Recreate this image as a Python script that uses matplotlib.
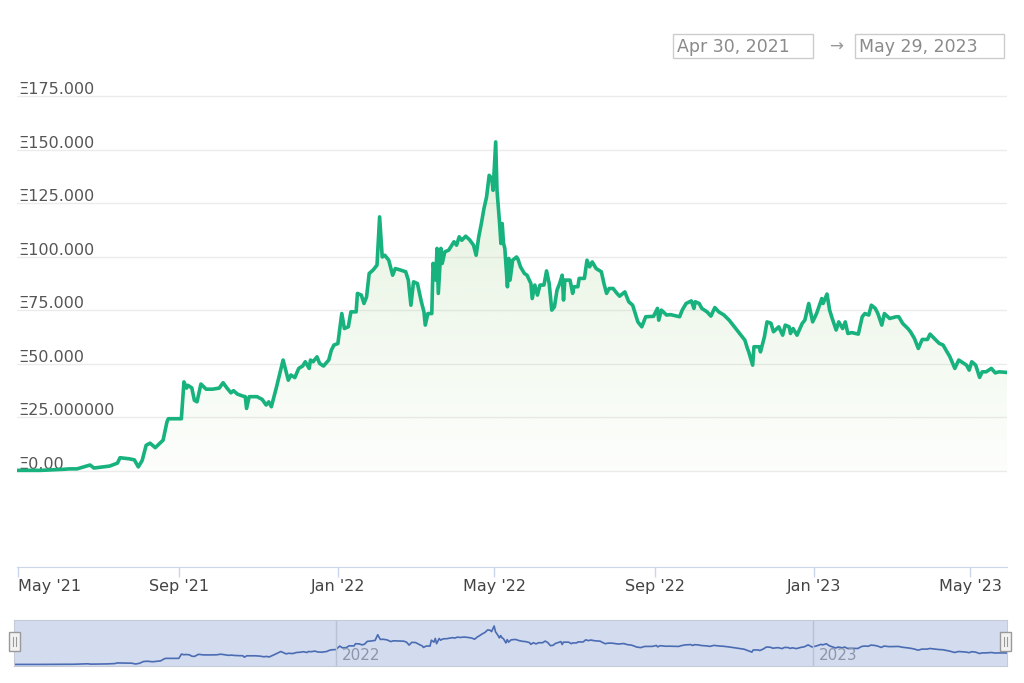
import numpy as np
import matplotlib
matplotlib.use("Agg")
import matplotlib.pyplot as plt
import matplotlib.dates as mdates
from matplotlib.patches import Rectangle

# data (days since Apr 30, 2021 -> price in ETH)
start = np.datetime64("2021-04-30")
days = [0, 18, 36, 40, 46, 56, 59, 71, 77, 79, 86, 90, 93, 96, 99, 102, 106, 112, 115, 116,
        126, 128, 130, 131, 134, 136, 138, 141, 145, 150, 155, 158, 161, 164, 166, 169, 173, 175, 176, 178,
        184, 188, 191, 193, 195, 199, 204, 208, 210, 213, 216, 219, 221, 224, 225, 227, 230, 232, 235, 239,
        241, 243, 246, 249, 251, 254, 256, 260, 261, 264, 266, 268, 270, 273, 276, 278, 280, 282, 285, 288,
        290, 294, 298, 300, 302, 304, 307, 310, 312, 313, 315, 318, 319, 321, 322, 323, 325, 326, 328, 331,
        335, 337, 339, 341, 344, 347, 350, 352, 354, 356, 358, 360, 362, 364, 365, 367, 368, 370, 371, 372,
        373, 374, 376, 377, 378, 380, 383, 384, 386, 389, 391, 394, 395, 397, 399, 401, 404, 406, 408, 410,
        412, 414, 416, 418, 419, 420, 424, 426, 427, 430, 431, 435, 437, 439, 441, 444, 448, 450, 452, 454,
        457, 460, 462, 466, 469, 472, 474, 476, 479, 482, 488, 491, 492, 494, 498, 501, 508, 510, 513, 517,
        519, 520, 523, 525, 529, 532, 535, 538, 542, 546, 550, 554, 558, 560, 561, 564, 565, 569, 570, 573,
        575, 578, 580, 584, 587, 589, 592, 593, 595, 598, 602, 604, 607, 610, 613, 617, 618, 621, 623, 625,
        628, 630, 633, 635, 637, 640, 645, 648, 650, 653, 655, 658, 660, 663, 665, 669, 674, 676, 679, 683,
        685, 688, 691, 694, 698, 700, 704, 707, 710, 713, 715, 718, 719, 722, 724, 728, 730, 732, 735, 738,
        740, 743, 747, 750, 753, 759]
price = [0.3, 0.3, 0.8, 1.0, 1.0, 2.8, 1.4, 2.3, 3.7, 6.2, 5.7, 5.2, 1.9, 5.0, 12.0, 13.0, 10.9, 14.4, 23.0, 24.4,
         24.4, 41.6, 38.7, 40.0, 38.8, 33.0, 32.3, 40.6, 38.2, 38.2, 38.7, 41.2, 38.7, 36.5, 37.5, 35.9, 35.0, 34.7, 29.2, 34.7,
         34.7, 33.4, 30.8, 32.3, 30.0, 39.3, 51.8, 42.4, 44.8, 43.6, 47.9, 49.0, 51.0, 47.9, 51.8, 51.0, 53.3, 50.2, 49.0, 51.8,
         56.4, 58.8, 59.5, 73.5, 66.5, 67.3, 74.3, 74.3, 82.9, 82.1, 78.2, 81.3, 92.2, 93.8, 96.1, 118.6, 99.9, 100.7, 98.4, 91.4,
         94.5, 93.8, 93.0, 89.1, 77.4, 88.3, 87.5, 79.0, 74.3, 68.1, 73.5, 73.5, 96.9, 89.1, 103.9, 82.9, 103.9, 96.9, 102.3, 103.1,
         107.0, 105.4, 109.3, 107.7, 109.6, 107.9, 105.4, 100.7, 109.3, 115.5, 122.5, 127.9, 138.0, 136.5, 131.0, 153.6, 131.0, 115.5, 106.2, 115.5,
         106.2, 103.9, 86.0, 99.2, 89.1, 98.4, 99.9, 99.0, 95.3, 92.2, 91.4, 87.5, 80.5, 86.8, 82.1, 86.8, 86.8, 93.4, 87.5, 75.1,
         76.6, 84.4, 87.5, 91.4, 79.8, 89.1, 89.1, 82.9, 86.0, 86.0, 89.9, 89.9, 98.4, 95.3, 97.6, 94.5, 93.0, 87.5, 82.9, 85.2,
         85.2, 82.9, 81.6, 83.6, 79.0, 77.4, 73.5, 69.6, 67.3, 72.0, 72.2, 75.9, 70.4, 75.1, 72.8, 73.0, 72.0, 75.1, 78.2, 79.4,
         75.9, 79.0, 78.2, 75.9, 74.3, 72.3, 76.3, 74.3, 72.8, 70.4, 67.3, 64.2, 61.1, 57.2, 55.6, 49.4, 58.0, 58.0, 55.6, 62.6,
         69.6, 69.0, 65.0, 67.3, 63.4, 68.1, 67.3, 64.2, 66.5, 63.4, 68.9, 70.4, 78.2, 69.6, 73.5, 80.5, 78.2, 82.6, 75.1, 71.2,
         65.8, 69.6, 66.5, 69.6, 64.2, 64.6, 63.9, 72.0, 73.5, 72.8, 77.4, 75.9, 73.5, 68.1, 73.5, 71.2, 72.0, 72.0, 68.9, 66.5,
         65.0, 61.9, 57.2, 61.4, 61.4, 63.9, 61.4, 59.6, 58.8, 55.6, 53.6, 49.4, 47.9, 51.8, 51.0, 49.4, 47.1, 51.0, 49.4, 43.7,
         46.3, 46.3, 47.9, 45.8, 46.3, 46.0]

y_ticks = [0, 25, 50, 75, 100, 125, 150, 175]
y_labels = ["Ξ0.00", "Ξ25.000000", "Ξ50.000", "Ξ75.000", "Ξ100.000", "Ξ125.000", "Ξ150.000", "Ξ175.000"]
x_ticks = ["2021-05-01", "2021-09-01", "2022-01-01", "2022-05-01", "2022-09-01", "2023-01-01", "2023-05-01"]
x_labels = ["May '21", "Sep '21", "Jan '22", "May '22", "Sep '22", "Jan '23", "May '23"]
nav_years = ["2022-01-01", "2023-01-01"]
nav_labels = ["2022", "2023"]
range_from = "Apr 30, 2021"
range_to = "May 29, 2023"

W, H = 1024, 683
plt.rcParams['font.family'] = ['DejaVu Sans']
fig = plt.figure(figsize=(W / 100, H / 100), dpi=100, facecolor="white")


def px_axes(l, t, r, b):
    return fig.add_axes([l / W, 1 - b / H, (r - l) / W, (b - t) / H])


x = mdates.date2num(start + np.array(days).astype("timedelta64[D]"))
x0 = mdates.date2num(start)
x1 = mdates.date2num(start + np.timedelta64(759, "D"))

# main chart
ax = px_axes(17, 95, 1007, 567)
for s in ["top", "left", "right"]:
    ax.spines[s].set_visible(False)
ax.spines["bottom"].set_color("#ccd6eb")
for v, lab in zip(y_ticks, y_labels):
    ax.axhline(v, color="#ebebeb", lw=1, zorder=0)
    ax.annotate(lab, xy=(0, v), xycoords=("axes fraction", "data"), xytext=(1, 1.5),
                textcoords="offset points", va="baseline", ha="left", fontsize=11.5, color="#555555")

poly = ax.fill_between(x, price, 0, color="none", lw=0)
grad = np.zeros((200, 1, 4))
grad[:, 0, 0] = 150 / 255
grad[:, 0, 1] = 205 / 255
grad[:, 0, 2] = 125 / 255
grad[:, 0, 3] = np.linspace(0.02, 0.3, 200)
im = ax.imshow(grad, extent=[x0, x1, 0, 175], aspect="auto", origin="lower", zorder=1)
im.set_clip_path(poly.get_paths()[0], ax.transData)
ax.plot(x, price, color="#17b27d", lw=2.6, solid_joinstyle="round", zorder=3)

ax.set_xlim(x0, x1)
ax.set_ylim(-44.8, 175.5)
ax.set_yticks([])
ax.set_xticks(mdates.date2num(np.array(x_ticks, dtype="datetime64[D]")))
ax.set_xticklabels(x_labels, fontsize=11.5, color="#444444")
ax.get_xticklabels()[0].set_horizontalalignment("left")
ax.tick_params(axis="x", direction="out", length=7, width=1, color="#ccd6eb", pad=2)

# date range boxes
for l, r, txt in [(673, 813, range_from), (855, 1004, range_to)]:
    fig.patches.append(Rectangle((l / W, 1 - 58 / H), (r - l) / W, 24 / H, transform=fig.transFigure,
                                 fill=False, ec="#cccccc", lw=1))
    fig.text((l + 4) / W, 1 - 46.5 / H, txt, ha="left", va="center", fontsize=12.5, color="#8a8a8a")
fig.text(836 / W, 1 - 47 / H, "→", ha="center", va="center", fontsize=12, color="#999999")

# navigator
nav = px_axes(14, 620, 1007, 666)
nav.set_facecolor("#d3dbee")
for s in nav.spines.values():
    s.set_color("#c4cad8")
nav.plot(x, price, color="#4a6cb3", lw=1.2)
for d, lab in zip(nav_years, nav_labels):
    xd = mdates.date2num(np.datetime64(d))
    nav.axvline(xd, color="#b9c1d5", lw=1)
    nav.annotate(lab, xy=(xd, 0), xycoords=("data", "axes fraction"), xytext=(4, 2),
                 textcoords="offset points", ha="left", va="bottom", fontsize=11, color="#8c95aa")
nav.set_xlim(x0, x1)
nav.set_ylim(-6, 177.5)
nav.set_xticks([])
nav.set_yticks([])

# navigator handles
for l in [9, 1000]:
    fig.patches.append(Rectangle((l / W, 1 - 651 / H), 11 / W, 19 / H, transform=fig.transFigure,
                                 fc="#f2f2f2", ec="#999999", lw=1))
    for dx in [4, 7]:
        fig.lines.append(plt.Line2D([(l + dx) / W] * 2, [1 - 646 / H, 1 - 637 / H],
                                    transform=fig.transFigure, color="#999999", lw=0.8))

fig.savefig("out.png", dpi=100, facecolor="white")
